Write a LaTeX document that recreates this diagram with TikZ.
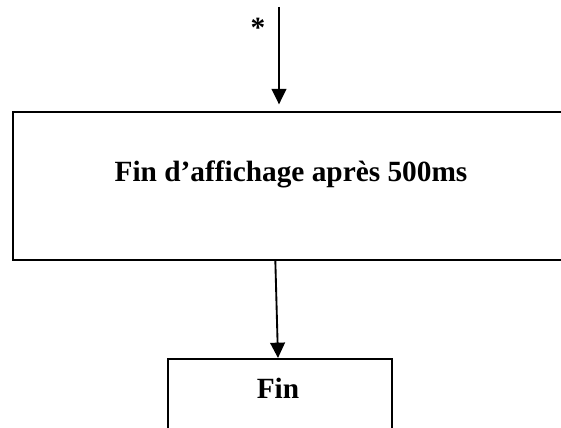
\documentclass[tikz,border=0pt]{standalone}
\usepackage{fontspec}
\setmainfont{Liberation Serif}
\usetikzlibrary{arrows.meta}

\begin{document}
\begin{tikzpicture}[x=0.75pt, y=-0.75pt, line width=1.4pt,
		>={Triangle[length=11.5pt, width=11pt]},
		font=\fontsize{22}{26}\selectfont\bfseries,
		boite/.style={draw, rectangle, anchor=north west, inner sep=0pt}]
		\useasboundingbox (0,0) rectangle (561,428);
		% entree
		\coordinate (depart) at (279,7);
		\node (etoile) at (258,28) {*};
		% bloc d'attente
		\node[boite, minimum width=600*0.75pt, minimum height=148*0.75pt] (attente) at (12,111) {};
		\node (texteattente) at (291,174) {Fin d’affichage après 500ms};
		% bloc final
		\node[boite, minimum width=224*0.75pt, minimum height=100*0.75pt] (fin) at (167,358) {};
		\node (textefin) at (278,388) {Fin};
		% fleches
		\draw[->] (depart) -- ([yshift=5pt]attente.north -| depart);
		\draw[->] ([xshift=-2pt]attente.south -| textefin) -- (fin.north -| textefin);
	\end{tikzpicture}
\end{document}
